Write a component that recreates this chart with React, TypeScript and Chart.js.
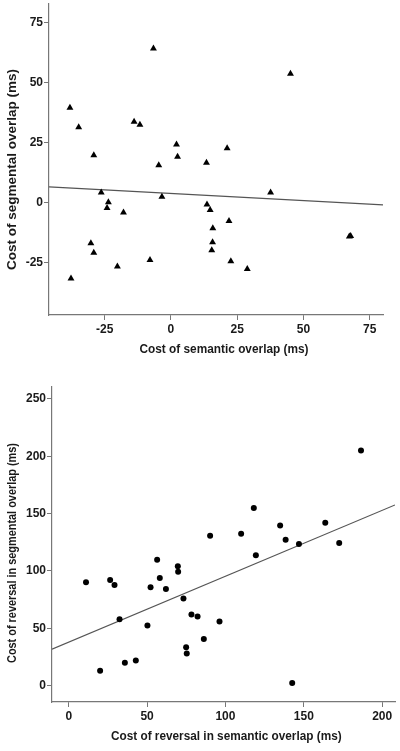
import React, { useEffect, useRef } from "react";
import { Chart, registerables } from "chart.js";

Chart.register(...registerables);

// ---- Panel 1: segmental vs semantic overlap (triangles) ----
const semanticCost = [
  -38.1, -34.8, -29.1, -6.6, -13.9, -11.7, 2.1, 2.5, -4.6, 13.4, 21.2, 45.1,
  -26.3, -23.6, -24.1, -17.9, -3.4, -30.2, -29.1, -20.2, -37.7, -7.9, 13.6,
  14.8, 15.8, 15.7, 15.4, 21.9, 22.6, 28.8, 37.6, 67.3, 67.8,
];
const segmentalCost = [
  39.7, 31.5, 19.9, 64.4, 33.8, 32.6, 24.3, 19.2, 15.7, 16.7, 22.8, 53.8,
  4.3, 0.3, -2.1, -4.0, 2.6, -16.8, -20.8, -26.5, -31.5, -23.8, -0.7,
  -2.9, -10.6, -16.4, -19.7, -7.5, -24.3, -27.5, 4.3, -14.0, -13.8,
];
const fitTopX = [-46, 80];
const fitTopY = [6.7, -0.8];
const topTicksX = [-25, 0, 25, 50, 75];
const topTicksY = [-25, 0, 25, 50, 75];

// ---- Panel 2: reversal costs (circles) ----
const revSemantic = [
  186.5, 118.1, 90.2, 110.0, 134.9, 163.7, 138.4, 146.9, 172.6, 119.4, 56.4,
  69.6, 69.8, 11.0, 26.4, 29.2, 52.2, 58.1, 62.0, 73.2, 32.4, 50.2, 78.3,
  82.2, 96.2, 86.2, 74.9, 75.3, 20.0, 35.8, 42.8, 142.6,
];
const revSegmental = [
  205, 154.8, 130.7, 132.4, 139.7, 142, 127.2, 123.5, 124.3, 113.6, 109.8,
  104.1, 99.4, 90.2, 92.2, 87.8, 85.8, 93.9, 84.3, 75.9, 58, 52.4, 62,
  60.3, 55.9, 40.6, 33.6, 28.1, 13.0, 20, 22.0, 2.3,
];
const fitBottomX = [-10.7, 208.2];
const fitBottomY = [31.9, 157.5];
const bottomTicksX = [0, 50, 100, 150, 200];
const bottomTicksY = [0, 50, 100, 150, 200, 250];

const FAMILY = "'Liberation Sans', Arial, sans-serif";
const FONT = { family: FAMILY, size: 12, weight: "bold" as const };
const TEXT = "#1a1a1a";
const AXIS = "#777777";

type TitleItem = { text: string; x: number; y: number; length: number; rotate: boolean };

const axisTitles = {
  id: "axisTitles",
  afterDraw(chart: any, _args: any, opts: any) {
    const ctx: CanvasRenderingContext2D = chart.ctx;
    const items: TitleItem[] = (opts && opts.items) || [];
    for (const t of items) {
      ctx.save();
      ctx.font = `bold 12px ${FAMILY}`;
      ctx.fillStyle = TEXT;
      ctx.textAlign = "center";
      ctx.textBaseline = "middle";
      ctx.translate(t.x, t.y);
      if (t.rotate) ctx.rotate(-Math.PI / 2);
      const w = ctx.measureText(t.text).width;
      ctx.scale(t.length / w, 1);
      ctx.fillText(t.text, 0, 0);
      ctx.restore();
    }
  },
};

type PanelProps = {
  top: number;
  height: number;
  xs: number[];
  ys: number[];
  fitX: number[];
  fitY: number[];
  xMin: number;
  xMax: number;
  yMin: number;
  yMax: number;
  ticksX: number[];
  ticksY: number[];
  titles: TitleItem[];
  pointStyle: string;
  radius: number;
  padding: { top: number; right: number; left: number; bottom: number };
  yWidth: number;
  xHeight: number;
};

function Panel(p: PanelProps) {
  const ref = useRef<HTMLCanvasElement | null>(null);
  useEffect(() => {
    if (!ref.current) return;
    const chart = new Chart(ref.current, {
      type: "scatter",
      plugins: [axisTitles as any],
      data: {
        datasets: [
          {
            data: p.xs.map((x, i) => ({ x, y: p.ys[i] })),
            pointStyle: p.pointStyle as any,
            pointRadius: p.radius,
            pointBackgroundColor: "#000",
            pointBorderColor: "#000",
            pointBorderWidth: 0,
            showLine: false,
          },
          {
            data: p.fitX.map((x, i) => ({ x, y: p.fitY[i] })),
            showLine: true,
            borderColor: "#555",
            borderWidth: 1.2,
            pointRadius: 0,
            fill: false,
          },
        ],
      },
      options: {
        responsive: false,
        animation: false,
        devicePixelRatio: 1,
        layout: { padding: p.padding },
        plugins: {
          legend: { display: false },
          tooltip: { enabled: false },
          axisTitles: { items: p.titles },
        } as any,
        scales: {
          x: {
            type: "linear",
            position: "bottom",
            min: p.xMin,
            max: p.xMax,
            afterBuildTicks: (s: any) => {
              s.ticks = p.ticksX.map((v) => ({ value: v }));
            },
            afterFit: (s: any) => {
              s.height = p.xHeight;
              s.paddingLeft = 0;
              s.paddingRight = 0;
            },
            grid: { drawOnChartArea: false, drawTicks: true, tickLength: 5, tickColor: AXIS, color: AXIS },
            border: { display: true, color: AXIS, width: 1.2 },
            ticks: { font: FONT, color: TEXT, padding: 2, maxRotation: 0 },
            title: { display: false },
          },
          y: {
            type: "linear",
            min: p.yMin,
            max: p.yMax,
            afterBuildTicks: (s: any) => {
              s.ticks = p.ticksY.map((v) => ({ value: v }));
            },
            afterFit: (s: any) => {
              s.width = p.yWidth;
              s.paddingTop = 0;
              s.paddingBottom = 0;
            },
            grid: { drawOnChartArea: false, drawTicks: true, tickLength: 5, tickColor: AXIS, color: AXIS },
            border: { display: true, color: AXIS, width: 1.2 },
            ticks: { font: FONT, color: TEXT, padding: 1 },
            title: { display: false },
          },
        },
      },
    });
    return () => chart.destroy();
  }, []);
  return (
    <canvas
      ref={ref}
      width={400}
      height={p.height}
      style={{ position: "absolute", left: 0, top: p.top, width: 400, height: p.height }}
    />
  );
}

export default function App() {
  return (
    <div style={{ position: "absolute", left: 0, top: 0, width: 400, height: 751, background: "#fff" }}>
      <Panel
        top={0}
        height={370}
        xs={semanticCost}
        ys={segmentalCost}
        fitX={fitTopX}
        fitY={fitTopY}
        xMin={-46}
        xMax={80}
        yMin={-46.7}
        yMax={82.9}
        ticksX={topTicksX}
        ticksY={topTicksY}
        titles={[
          { text: "Cost of semantic overlap (ms)", x: 224, y: 349.5, length: 169, rotate: false },
          { text: "Cost of segmental overlap (ms)", x: 13, y: 169.5, length: 201, rotate: true },
        ]}
        pointStyle="triangle"
        radius={4}
        padding={{ top: 4, right: 17, left: 0, bottom: 0 }}
        yWidth={49}
        xHeight={55}
      />
      <Panel
        top={370}
        height={381}
        xs={revSemantic}
        ys={revSegmental}
        fitX={fitBottomX}
        fitY={fitBottomY}
        xMin={-10.7}
        xMax={208.2}
        yMin={-14.2}
        yMax={260.3}
        ticksX={bottomTicksX}
        ticksY={bottomTicksY}
        titles={[
          { text: "Cost of reversal in semantic overlap (ms)", x: 226.3, y: 367, length: 230.7, rotate: false },
          { text: "Cost of reversal in segmental overlap (ms)", x: 13, y: 183, length: 220, rotate: true },
        ]}
        pointStyle="circle"
        radius={3}
        padding={{ top: 17, right: 5, left: 0, bottom: 0 }}
        yWidth={52}
        xHeight={49}
      />
    </div>
  );
}
